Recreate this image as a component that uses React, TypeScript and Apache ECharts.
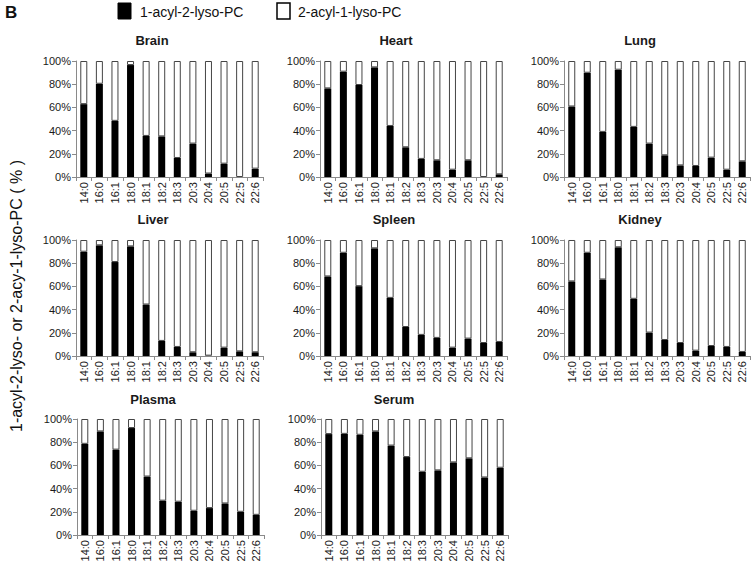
import React, { useEffect, useRef } from "react";
import * as echarts from "echarts";

const categories = ["14:0", "16:0", "16:1", "18:0", "18:1", "18:2", "18:3", "20:3", "20:4", "20:5", "22:5", "22:6"];

const panelNames = ["Brain", "Heart", "Lung", "Liver", "Spleen", "Kidney", "Plasma", "Serum"];

const brain = [62.8, 80.4, 48.4, 96.5, 35.4, 35, 16.4, 28.8, 3, 11.5, 0, 7.2];
const heart = [76.4, 90.8, 79.3, 94.5, 44, 25.6, 15.6, 14.4, 6.3, 14.4, 0, 2.3];
const lung = [60.8, 89.9, 38.9, 92.5, 43.2, 28.8, 18.7, 10, 9.5, 16.7, 6.3, 13.5];
const liver = [89.9, 95.4, 81, 94.5, 44.4, 13, 7.8, 3.2, 0.3, 7.2, 4, 3.2];
const spleen = [68.6, 89, 60.2, 92.8, 50.1, 25, 18.2, 15.6, 7.2, 15, 11.2, 12.1];
const kidney = [64.3, 89, 66, 93.7, 49.3, 20.2, 13.8, 11.2, 4.6, 8.6, 7.8, 3.5];
const plasma = [78.6, 89.3, 73.6, 92.2, 50.4, 29.6, 28.7, 20.9, 23.2, 27.2, 20, 17.4];
const serum = [87, 87.2, 86.4, 89.3, 77.1, 67.2, 54.5, 55.7, 62.6, 66.1, 49.6, 58];

const panelValues = [brain, heart, lung, liver, spleen, kidney, plasma, serum];

const seriesNames = ["1-acyl-2-lyso-PC", "2-acyl-1-lyso-PC"];
const yAxisTitle = "1-acyl-2-lyso- or 2-acy-1-lyso-PC ( % )";
const panelLetter = "B";

// layout
const gridLefts = [76, 320, 564, 76, 320, 564, 77, 321];
const gridTops = [61, 61, 61, 240, 240, 240, 419, 419];
const gridWidths = [187, 187, 186, 187, 187, 186, 187, 187];
const gridHeight = 116;
const titleX = [152, 396, 640, 153, 394, 640, 153, 394];
const titleY = [40, 40, 40, 219, 219, 219, 399, 399];

const FONT = "'Liberation Sans', Arial, sans-serif";

export default function App() {
  const ref = useRef<HTMLDivElement>(null);
  useEffect(() => {
    if (!ref.current) return;
    const chart = echarts.init(ref.current, undefined, { renderer: "svg" });
    const grids: any[] = [];
    const xAxes: any[] = [];
    const yAxes: any[] = [];
    const series: any[] = [];
    const graphics: any[] = [];
    panelValues.forEach((vals, i) => {
      grids.push({ left: gridLefts[i], top: gridTops[i], width: gridWidths[i], height: gridHeight, containLabel: false });
      xAxes.push({
        type: "category",
        gridIndex: i,
        data: categories,
        boundaryGap: true,
        axisLine: { lineStyle: { color: "#8a8a8a", width: 1 } },
        axisTick: { show: true, length: 4, lineStyle: { color: "#8a8a8a" } },
        axisLabel: { rotate: 90, interval: 0, fontSize: 11, color: "#1a1a1a", fontFamily: FONT, margin: 5 },
      });
      yAxes.push({
        type: "value",
        gridIndex: i,
        min: 0,
        max: 100,
        interval: 20,
        axisLine: { show: true, lineStyle: { color: "#8a8a8a", width: 1 } },
        axisTick: { show: true, length: 4, lineStyle: { color: "#8a8a8a" } },
        splitLine: { show: false },
        axisLabel: {
          formatter: (v: number) => v + "%",
          fontSize: 11,
          color: "#1a1a1a",
          fontFamily: FONT,
          margin: 5,
        },
      });
      series.push({
        type: "bar",
        name: seriesNames[0],
        xAxisIndex: i,
        yAxisIndex: i,
        stack: "s" + i,
        barWidth: 7,
        data: vals,
        itemStyle: { color: "#000", borderWidth: 0 },
      });
      series.push({
        type: "bar",
        name: seriesNames[1],
        xAxisIndex: i,
        yAxisIndex: i,
        stack: "s" + i,
        barWidth: 7,
        data: vals.map((v) => 100 - v),
        itemStyle: { color: "#fff", borderColor: "#444", borderWidth: 1 },
      });
      graphics.push({
        type: "text",
        x: titleX[i],
        y: titleY[i],
        style: { text: panelNames[i], font: `bold 13px ${FONT}`, fill: "#1a1a1a", textAlign: "center", textVerticalAlign: "middle" },
      });
    });
    // legend & labels
    graphics.push({ type: "text", x: 5, y: 4, style: { text: panelLetter, font: `bold 17px ${FONT}`, fill: "#111" } });
    graphics.push({ type: "rect", shape: { x: 118, y: 3, width: 13, height: 16 }, style: { fill: "#000", stroke: "#000" } });
    graphics.push({ type: "text", x: 140, y: 12, style: { text: seriesNames[0], font: `14px ${FONT}`, fill: "#111", textVerticalAlign: "middle" } });
    graphics.push({ type: "rect", shape: { x: 277, y: 3, width: 13, height: 16 }, style: { fill: "#fff", stroke: "#000", lineWidth: 1.5 } });
    graphics.push({ type: "text", x: 298, y: 12, style: { text: seriesNames[1], font: `14px ${FONT}`, fill: "#111", textVerticalAlign: "middle" } });
    graphics.push({
      type: "text",
      x: 16,
      y: 296,
      rotation: Math.PI / 2,
      style: { text: yAxisTitle, font: `16px ${FONT}`, fill: "#111", textAlign: "center", textVerticalAlign: "middle" },
    });

    chart.setOption({
      animation: false,
      backgroundColor: "#fff",
      textStyle: { color: "#1a1a1a", fontFamily: FONT },
      grid: grids,
      xAxis: xAxes,
      yAxis: yAxes,
      series,
      graphic: graphics,
    });
    return () => chart.dispose();
  }, []);
  return <div ref={ref} style={{ position: "absolute", left: 0, top: 0, width: 752, height: 567 }} />;
}
